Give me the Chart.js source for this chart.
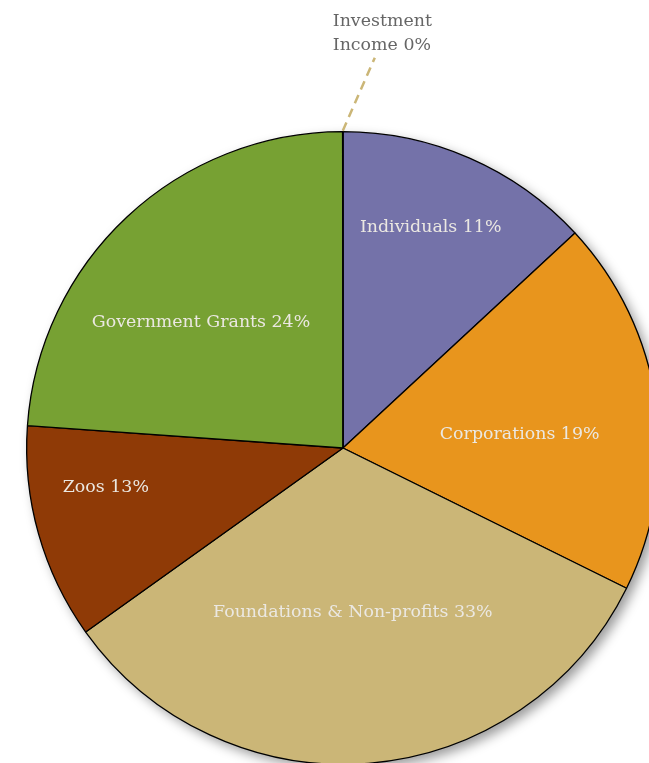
<!DOCTYPE html>
<html>
<head>
<meta charset="utf-8">
<script src="https://cdn.jsdelivr.net/npm/chart.js@4.4.0/dist/chart.umd.min.js"></script>
<style>
  html, body { margin: 0; padding: 0; background: #fff; overflow: hidden; }
  #wrap { width: 700px; height: 800px; }
</style>
</head>
<body>
<div id="wrap"><canvas id="fundChart" width="700" height="800"></canvas></div>
<script>
const categories = [
  "Individuals",
  "Corporations",
  "Foundations & Non-profits",
  "Zoos",
  "Government Grants",
  "Investment Income",
];

// slice sizes
const shares = [13.1, 19.2, 32.8, 11.0, 23.85, 0.02];

// percentages as printed on the labels
const printedPct = [11, 19, 33, 13, 24, 0];

const colors = ["#7472a9", "#e8951d", "#cbb677", "#8f3a06", "#77a133", "#cbb677"];

// where each inside label sits: fraction of radius, angle shift in degrees
const labelFrac = [0.75, 0.56, 0.52, 0.76, 0.60];
const labelShift = [-1.9, 4, 1.2, 6.3, -5.4];

const FONT = '17.4px "DejaVu Serif", serif';

const shadowPlugin = {
  id: "pieShadow",
  beforeDatasetsDraw(chart) {
    const arc = chart.getDatasetMeta(0).data[0];
    const ctx = chart.ctx;
    ctx.save();
    ctx.shadowColor = "rgba(0,0,0,0.4)";
    ctx.shadowBlur = 12;
    ctx.shadowOffsetX = 5;
    ctx.shadowOffsetY = 5;
    ctx.fillStyle = "#fff";
    ctx.beginPath();
    ctx.arc(arc.x, arc.y, arc.outerRadius, 0, Math.PI * 2);
    ctx.fill();
    ctx.restore();
  },
};

const labelPlugin = {
  id: "sliceLabels",
  afterDatasetsDraw(chart) {
    const ctx = chart.ctx;
    const arcs = chart.getDatasetMeta(0).data;
    ctx.save();
    ctx.font = FONT;
    ctx.textBaseline = "middle";
    arcs.forEach((arc, i) => {
      const mid = (arc.startAngle + arc.endAngle) / 2;
      if (i < labelFrac.length) {
        const a = mid + (labelShift[i] * Math.PI) / 180;
        const r = arc.outerRadius * labelFrac[i];
        ctx.fillStyle = "#ebe8e2";
        ctx.textAlign = "center";
        ctx.fillText(categories[i] + " " + printedPct[i] + "%", arc.x + r * Math.cos(a), arc.y + r * Math.sin(a));
      } else {
        // callout for the tiny slice
        const sx = arc.x + arc.outerRadius * Math.cos(mid);
        const sy = arc.y + arc.outerRadius * Math.sin(mid);
        ctx.strokeStyle = "#cbb677";
        ctx.lineWidth = 2.5;
        ctx.setLineDash([9, 6]);
        ctx.beginPath();
        ctx.moveTo(sx, sy - 1);
        ctx.lineTo(sx + 32, sy - 74);
        ctx.stroke();
        ctx.setLineDash([]);
        ctx.fillStyle = "#666";
        ctx.textAlign = "left";
        ctx.textBaseline = "alphabetic";
        ctx.fillText("Investment", sx - 10, 26);
        ctx.fillText("Income " + printedPct[i] + "%", sx - 10, 50);
      }
    });
    ctx.restore();
  },
};

const config = {
  type: "pie",
  data: {
    labels: categories,
    datasets: [
      {
        data: shares,
        backgroundColor: colors,
        borderColor: "#000",
        borderWidth: 1.3,
      },
    ],
  },
  options: {
    responsive: false,
    animation: false,
    layout: { padding: { left: 26, top: 131, right: 40, bottom: 35 } },
    plugins: {
      legend: { display: false },
      tooltip: { enabled: false },
    },
  },
  plugins: [shadowPlugin, labelPlugin],
};

const myChart = new Chart(document.getElementById("fundChart"), config);
</script>
</body>
</html>
